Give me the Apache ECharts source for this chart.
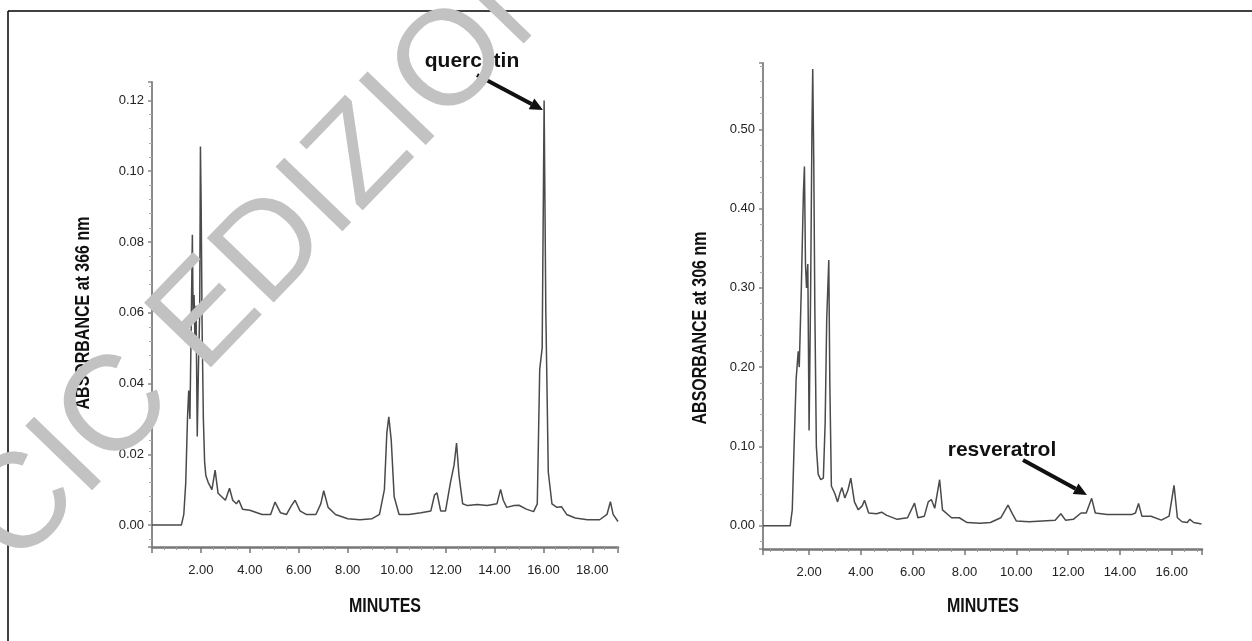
<!DOCTYPE html>
<html>
<head>
<meta charset="utf-8">
<script src="https://cdn.jsdelivr.net/npm/echarts@6/dist/echarts.min.js"></script>
<style>
  html, body { margin: 0; padding: 0; background: #fff; }
  #chart { width: 1252px; height: 641px; }
</style>
</head>
<body>
<div id="chart"></div>
<script>
// 366 nm chromatogram (quercetin)
var time366 = [0, 1.2, 1.3, 1.38, 1.45, 1.5, 1.55, 1.6, 1.65, 1.68, 1.72, 1.76, 1.8, 1.85, 1.9, 1.95, 1.98, 2.01, 2.05, 2.1, 2.15, 2.2, 2.3, 2.45, 2.58, 2.7, 2.85, 3.0, 3.17, 3.3, 3.45, 3.55, 3.7, 4.0, 4.5, 4.85, 5.03, 5.25, 5.5, 5.7, 5.85, 6.05, 6.3, 6.7, 6.9, 7.02, 7.2, 7.5, 8.0, 8.5, 9.0, 9.3, 9.5, 9.6, 9.68, 9.78, 9.9, 10.1, 10.5, 11.0, 11.4, 11.55, 11.65, 11.8, 12.0, 12.2, 12.35, 12.45, 12.55, 12.7, 12.9, 13.3, 13.7, 14.1, 14.25, 14.36, 14.5, 14.8, 15.0, 15.3, 15.6, 15.75, 15.85, 15.95, 16.03, 16.1, 16.2, 16.35, 16.55, 16.74, 16.95, 17.3, 17.8, 18.3, 18.6, 18.74, 18.85, 19.05];
var abs366 = [0, 0, 0.003, 0.012, 0.03, 0.038, 0.03, 0.055, 0.082, 0.06, 0.065, 0.05, 0.062, 0.025, 0.045, 0.06, 0.107, 0.09, 0.055, 0.03, 0.018, 0.014, 0.012, 0.01, 0.0155, 0.009, 0.008, 0.007, 0.0104, 0.007, 0.006, 0.007, 0.0045, 0.0042, 0.003, 0.003, 0.0065, 0.0035, 0.003, 0.0055, 0.007, 0.004, 0.003, 0.003, 0.006, 0.0097, 0.005, 0.003, 0.0018, 0.0015, 0.0018, 0.003, 0.01, 0.026, 0.0306, 0.024, 0.008, 0.003, 0.003, 0.0035, 0.004, 0.0085, 0.0091, 0.004, 0.004, 0.012, 0.017, 0.0232, 0.014, 0.006, 0.0055, 0.0058, 0.0055, 0.006, 0.0101, 0.007, 0.005, 0.0055, 0.0056, 0.0045, 0.0038, 0.006, 0.044, 0.05, 0.12, 0.06, 0.015, 0.006, 0.005, 0.0052, 0.003, 0.002, 0.0015, 0.0015, 0.003, 0.0066, 0.003, 0.001];

// 306 nm chromatogram (resveratrol)
var time306 = [0.22, 1.27, 1.35, 1.42, 1.5, 1.58, 1.62, 1.7, 1.78, 1.82, 1.86, 1.9, 1.95, 2.0, 2.06, 2.11, 2.14, 2.18, 2.22, 2.28, 2.35, 2.45, 2.55, 2.62, 2.68, 2.76, 2.8, 2.86, 3.0, 3.1, 3.2, 3.27, 3.38, 3.5, 3.61, 3.75, 3.9, 4.05, 4.14, 4.3, 4.6, 4.8, 5.0, 5.4, 5.8, 6.07, 6.2, 6.45, 6.6, 6.72, 6.85, 7.04, 7.15, 7.5, 7.8, 8.1, 8.6, 9.0, 9.4, 9.68, 9.85, 10.0, 10.5, 11.0, 11.5, 11.72, 11.9, 12.2, 12.5, 12.7, 12.91, 13.05, 13.5, 14.0, 14.45, 14.6, 14.72, 14.85, 15.2, 15.6, 15.9, 16.09, 16.22, 16.4, 16.6, 16.7, 16.85, 17.15];
var abs306 = [0, 0, 0.02, 0.1, 0.185, 0.22, 0.2, 0.3, 0.42, 0.453, 0.33, 0.3, 0.33, 0.12, 0.3, 0.5, 0.576, 0.46, 0.28, 0.1, 0.065, 0.058, 0.06, 0.13, 0.26, 0.335, 0.18, 0.05, 0.04, 0.03, 0.042, 0.048, 0.035, 0.045, 0.06, 0.03, 0.02, 0.025, 0.032, 0.016, 0.015, 0.017, 0.013, 0.008, 0.01, 0.0285, 0.01, 0.012, 0.03, 0.033, 0.022, 0.058, 0.02, 0.01, 0.01, 0.004, 0.003, 0.004, 0.01, 0.026, 0.015, 0.006, 0.005, 0.006, 0.007, 0.015, 0.007, 0.008, 0.016, 0.016, 0.0345, 0.016, 0.014, 0.014, 0.014, 0.016, 0.028, 0.012, 0.012, 0.007, 0.012, 0.051, 0.01, 0.005, 0.004, 0.008, 0.004, 0.002];

var xTickStep = 2;
var yTickStep366 = 0.02;
var yTickStep306 = 0.1;

function pairs(xs, ys) {
    return xs.map(function (x, i) { return [x, ys[i]]; });
}

function onStep(v, step) {
    var r = v / step;
    return Math.abs(r - Math.round(r)) < 1e-6;
}

var sans = "'Liberation Sans', Arial, sans-serif";

function xAxisOpt(idx, min, max) {
    return {
        type: 'value', gridIndex: idx, min: min, max: max,
        minInterval: xTickStep, maxInterval: xTickStep, splitNumber: 9,
        axisLine: { show: true, onZero: false, lineStyle: { color: '#777', width: 2.5 } },
        axisTick: { show: true, length: 6, lineStyle: { color: '#777', width: 1.5 } },
        minorTick: { show: true, splitNumber: 4, length: 3, lineStyle: { color: '#999' } },
        axisLabel: {
            margin: 17, fontFamily: sans, fontSize: 13, color: '#222',
            formatter: function (v) { return (v > 0 && onStep(v, xTickStep)) ? v.toFixed(2) : ''; }
        },
        splitLine: { show: false }
    };
}

function yAxisOpt(idx, min, max, step) {
    return {
        type: 'value', gridIndex: idx, min: min, max: max,
        minInterval: step, maxInterval: step, splitNumber: 6,
        axisLine: { show: true, onZero: false, lineStyle: { color: '#8a8a8a', width: 2 } },
        axisTick: { show: true, length: 4, lineStyle: { color: '#888', width: 1.5 } },
        minorTick: { show: true, splitNumber: 5, length: 3, lineStyle: { color: '#aaa' } },
        axisLabel: {
            margin: 8, fontFamily: sans, fontSize: 13, color: '#222',
            formatter: function (v) { return (v > -1e-9 && onStep(v, step)) ? Math.abs(v).toFixed(2) : ''; }
        },
        splitLine: { show: false }
    };
}

// condensed bold axis title
function title(text, x, y, vertical) {
    return {
        type: 'text', x: x, y: y, rotation: vertical ? Math.PI / 2 : 0, scaleX: 0.8,
        style: { text: text, fontFamily: sans, fontWeight: 'bold', fontSize: 20, fill: '#111', align: 'center', verticalAlign: 'middle' }
    };
}

function arrow(x1, y1, x2, y2) {
    var dx = x2 - x1, dy = y2 - y1;
    var len = Math.sqrt(dx * dx + dy * dy);
    var ux = dx / len, uy = dy / len;
    var hl = 13, hw = 6;
    var bx = x2 - ux * hl, by = y2 - uy * hl;
    return [
        { type: 'line', shape: { x1: x1, y1: y1, x2: bx, y2: by }, style: { stroke: '#111', lineWidth: 4 }, z: 100 },
        { type: 'polygon', shape: { points: [[x2, y2], [bx - uy * hw, by + ux * hw], [bx + uy * hw, by - ux * hw]] }, style: { fill: '#111' }, z: 100 }
    ];
}

var chart = echarts.init(document.getElementById('chart'));

var graphics = [
    { type: 'line', shape: { x1: 8, y1: 11, x2: 1252, y2: 11 }, style: { stroke: '#000', lineWidth: 1.5 } },
    { type: 'line', shape: { x1: 8, y1: 11, x2: 8, y2: 641 }, style: { stroke: '#000', lineWidth: 1.5 } },
    title('ABSORBANCE at 366 nm', 83, 313, true),
    title('ABSORBANCE at 306 nm', 700, 328, true),
    title('MINUTES', 385, 606, false),
    title('MINUTES', 983, 606, false),
    { type: 'text', x: 472, y: 61, style: { text: 'quercetin', fontFamily: sans, fontWeight: 'bold', fontSize: 21, fill: '#111', align: 'center', verticalAlign: 'middle' }, z: 100 },
    { type: 'text', x: 1002, y: 450, style: { text: 'resveratrol', fontFamily: sans, fontWeight: 'bold', fontSize: 21, fill: '#111', align: 'center', verticalAlign: 'middle' }, z: 100 }
].concat(arrow(477, 75, 543, 110), arrow(1023, 460, 1087, 495));

// watermark
graphics.push({
    type: 'text', x: 286, y: 236, rotation: 46 * Math.PI / 180, silent: true, z: 200,
    style: { text: 'CIC EDIZIONI', fontFamily: sans, fontSize: 135, fill: '#c2c2c2', align: 'center', verticalAlign: 'middle' }
});

chart.setOption({
    animation: false,
    grid: [
        { left: 152, top: 82, width: 466, height: 465, outerBoundsMode: 'none' },
        { left: 763, top: 63, width: 439, height: 486, outerBoundsMode: 'none' }
    ],
    xAxis: [
        xAxisOpt(0, 0, 19.05),
        xAxisOpt(1, 0.22, 17.17)
    ],
    yAxis: [
        yAxisOpt(0, -0.0062, 0.1252, yTickStep366),
        yAxisOpt(1, -0.0294, 0.5836, yTickStep306)
    ],
    series: [
        {
            type: 'line', xAxisIndex: 0, yAxisIndex: 0, showSymbol: false, symbol: 'none',
            data: pairs(time366, abs366),
            lineStyle: { color: '#4a4a4a', width: 1.5 }
        },
        {
            type: 'line', xAxisIndex: 1, yAxisIndex: 1, showSymbol: false, symbol: 'none',
            data: pairs(time306, abs306),
            lineStyle: { color: '#4a4a4a', width: 1.5 }
        }
    ],
    graphic: graphics
});
</script>
</body>
</html>
